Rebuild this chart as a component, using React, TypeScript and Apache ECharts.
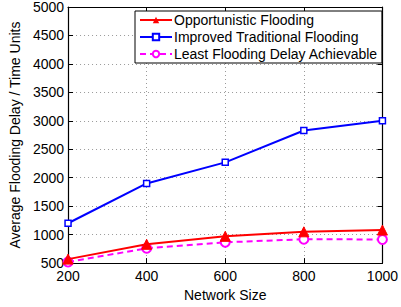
import React, { useEffect, useRef } from "react";
import * as echarts from "echarts";

const networkSizes = [200, 400, 600, 800, 1000];
const opportunistic = [570, 830, 970, 1050, 1080];
const improvedTraditional = [1200, 1900, 2270, 2830, 3000];
const leastDelay = [520, 760, 865, 920, 915];
const seriesNames = [
  "Opportunistic Flooding",
  "Improved Traditional Flooding",
  "Least Flooding Delay Achievable",
];

const FONT = "Liberation Sans, Arial, Helvetica, sans-serif";

export default function App() {
  const ref = useRef<HTMLDivElement>(null);
  useEffect(() => {
    if (!ref.current) return;
    const chart = echarts.init(ref.current, undefined, { renderer: "svg" });
    const mk = (arr: number[]) => networkSizes.map((x, i) => [x, arr[i]]);
    const grid = { left: 59, right: 15, top: 6, bottom: 42 };
    const split = {
      show: true,
      lineStyle: { color: "#9a9a9a", type: [1, 3] as any, width: 1 },
    };
    const plain = (v: number) => String(v);
    chart.setOption({
      animation: false,
      backgroundColor: "#ffffff",
      textStyle: { fontFamily: FONT },
      grid,
      legend: {
        orient: "vertical",
        left: 135,
        top: 11,
        backgroundColor: "#ffffff",
        borderColor: "#000000",
        borderWidth: 1,
        borderRadius: 0,
        padding: [2, 4, 2, 4],
        itemWidth: 32,
        itemHeight: 8,
        itemGap: 3,
        textStyle: { fontFamily: FONT, fontSize: 14, color: "#000", padding: [0, 0, 0, -3], lineHeight: 14 },
        data: seriesNames,
      },
      xAxis: [
        {
          type: "value",
          min: 200,
          max: 1000,
          interval: 200,
          name: "Network Size",
          nameLocation: "middle",
          nameGap: 19,
          nameTextStyle: { fontFamily: FONT, fontSize: 14, color: "#000" },
          axisLine: { show: true, onZero: false, lineStyle: { color: "#000", width: 1.2 } },
          axisTick: { show: true, inside: true, length: 5, lineStyle: { color: "#000" } },
          axisLabel: { fontFamily: FONT, fontSize: 14, color: "#000", margin: 6, formatter: plain },
          splitLine: split,
        },
        {
          type: "value",
          position: "top",
          min: 200,
          max: 1000,
          interval: 200,
          axisLine: { show: true, onZero: false, lineStyle: { color: "#000", width: 1.2 } },
          axisTick: { show: true, inside: true, length: 5, lineStyle: { color: "#000" } },
          axisLabel: { show: false },
          splitLine: { show: false },
        },
      ],
      yAxis: [
        {
          type: "value",
          min: 500,
          max: 5000,
          interval: 500,
          name: "Average Flooding Delay / Time Units",
          nameLocation: "middle",
          nameGap: 40,
          nameTextStyle: { fontFamily: FONT, fontSize: 14, color: "#000" },
          axisLine: { show: true, onZero: false, lineStyle: { color: "#000", width: 1.2 } },
          axisTick: { show: true, inside: true, length: 5, lineStyle: { color: "#000" } },
          axisLabel: { fontFamily: FONT, fontSize: 14, color: "#000", margin: 4, formatter: plain },
          splitLine: split,
        },
        {
          type: "value",
          position: "right",
          min: 500,
          max: 5000,
          interval: 500,
          axisLine: { show: true, onZero: false, lineStyle: { color: "#000", width: 1.2 } },
          axisTick: { show: true, inside: true, length: 5, lineStyle: { color: "#000" } },
          axisLabel: { show: false },
          splitLine: { show: false },
        },
      ],
      series: [
        {
          name: seriesNames[0],
          type: "line",
          data: mk(opportunistic),
          smooth: false,
          symbol: "triangle",
          symbolSize: 10,
          lineStyle: { color: "#ff0000", width: 2 },
          itemStyle: { color: "#ff0000", borderColor: "#ff0000" },
          z: 3,
        },
        {
          name: seriesNames[1],
          type: "line",
          data: mk(improvedTraditional),
          smooth: false,
          symbol: "rect",
          symbolSize: 6,
          lineStyle: { color: "#0000ff", width: 2 },
          itemStyle: { color: "#ffffff", borderColor: "#0000ff", borderWidth: 1.5 },
          z: 3,
        },
        {
          name: seriesNames[2],
          type: "line",
          data: mk(leastDelay),
          smooth: false,
          symbol: "circle",
          symbolSize: 9,
          lineStyle: { color: "#ff00ff", width: 2, type: [6, 4] as any },
          itemStyle: { color: "#ffffff", borderColor: "#ff00ff", borderWidth: 2 },
          z: 2,
        },
      ],
    });
    return () => chart.dispose();
  }, []);
  return (
    <div
      ref={ref}
      style={{ position: "fixed", left: 0, top: 0, width: 401, height: 307, background: "#fff" }}
    />
  );
}
